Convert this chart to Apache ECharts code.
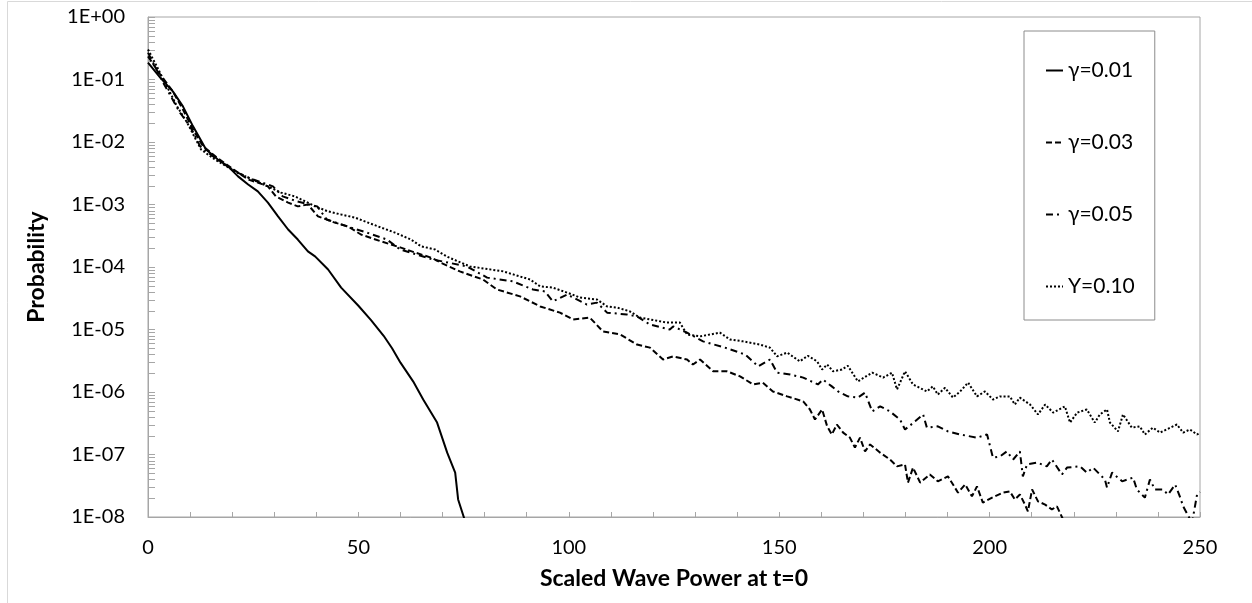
<!DOCTYPE html>
<html>
<head>
<meta charset="utf-8">
<script src="https://cdn.jsdelivr.net/npm/echarts@6/dist/echarts.min.js"></script>
<style>
  html, body { margin: 0; padding: 0; background: #fff; }
  #chart { width: 1252px; height: 603px; }
</style>
</head>
<body>
<div id="chart"></div>
<script>
// ---- Data ----
const seriesNames = ['γ=0.01', 'γ=0.03', 'γ=0.05', 'Υ=0.10'];

const g01X = [0, 2.9, 5.9, 8.3, 10.7, 13.8, 16.6, 19.0, 21.4, 23.8, 26.1, 28.5, 30.9, 33.3, 35.6, 38.0, 39.7, 42.8, 45.9, 50.0, 53.0, 56.0, 58.0, 60.0, 63.0, 65.4, 68.7, 71.1, 73.0, 73.7, 75.5];
const g01Y = [1.86e-1, 1.07e-1, 6.46e-2, 3.72e-2, 1.78e-2, 7.59e-3, 5.25e-3, 4.07e-3, 2.82e-3, 2.09e-3, 1.62e-3, 1.07e-3, 6.46e-4, 3.98e-4, 2.75e-4, 1.78e-4, 1.48e-4, 9.12e-5, 4.68e-5, 2.40e-5, 1.41e-5, 7.94e-6, 5.01e-6, 2.95e-6, 1.48e-6, 7.59e-7, 3.24e-7, 1.07e-7, 5.13e-8, 1.91e-8, 8.0e-9];

const g03X = [0, 2.9, 5.9, 8.3, 10.7, 13.1, 16.4, 21.4, 23.8, 26.1, 28.5, 30.4, 33.3, 35.6, 38.0, 40.4, 44.4, 47.5, 50.6, 55.4, 60.1, 63.5, 67.3, 69.6, 74.1, 79.6, 82.9, 88.4, 93.2, 97.9, 101.0, 105.0, 108.1, 112.2, 116.2, 119.3, 122.4, 124.8, 128.1, 129.5, 131.2, 134.3, 137.6, 140.7, 143.8, 146.1, 148.5, 151.9, 155.7, 157.3, 158.5, 160.2, 161.4, 162.5, 163.7, 165.2, 166.8, 168.0, 169.2, 170.4, 171.6, 174.0, 176.3, 178.0, 179.9, 180.6, 181.8, 183.5, 185.8, 187.7, 190.1, 192.5, 194.2, 195.8, 197.0, 198.4, 200.6, 203.2, 204.8, 206.0, 207.2, 208.4, 209.1, 210.1, 211.5, 213.2, 214.8, 216.0, 217.5];
const g03Y = [2.34e-1, 1.20e-1, 6.46e-2, 3.31e-2, 1.58e-2, 8.51e-3, 5.62e-3, 3.24e-3, 2.51e-3, 2.24e-3, 1.95e-3, 1.35e-3, 1.07e-3, 9.33e-4, 1.00e-3, 6.46e-4, 5.13e-4, 4.47e-4, 3.31e-4, 2.57e-4, 2.04e-4, 1.70e-4, 1.41e-4, 1.17e-4, 8.51e-5, 6.31e-5, 4.37e-5, 3.39e-5, 2.34e-5, 1.86e-5, 1.45e-5, 1.55e-5, 9.33e-6, 8.32e-6, 5.75e-6, 5.13e-6, 3.31e-6, 3.72e-6, 3.31e-6, 2.75e-6, 3.31e-6, 2.14e-6, 2.14e-6, 1.78e-6, 1.32e-6, 1.41e-6, 1.02e-6, 8.51e-7, 7.08e-7, 5.25e-7, 3.63e-7, 5.25e-7, 2.82e-7, 2.09e-7, 3.02e-7, 2.24e-7, 1.86e-7, 1.29e-7, 1.86e-7, 1.12e-7, 1.45e-7, 1.07e-7, 8.32e-8, 6.46e-8, 6.92e-8, 3.55e-8, 6.17e-8, 3.55e-8, 4.79e-8, 3.72e-8, 4.47e-8, 2.45e-8, 3.31e-8, 2.14e-8, 3.09e-8, 1.70e-8, 2.04e-8, 2.45e-8, 2.57e-8, 1.91e-8, 2.29e-8, 1.58e-8, 1.23e-8, 2.75e-8, 1.78e-8, 1.58e-8, 1.32e-8, 1.48e-8, 9.0e-9];

const g05X = [0, 3.6, 7.6, 10.0, 12.4, 16.4, 21.2, 25.0, 29.7, 32.0, 35.4, 40.2, 42.5, 47.3, 52.0, 56.8, 59.9, 67.7, 75.8, 80.6, 86.7, 91.5, 94.3, 96.2, 99.6, 104.3, 106.7, 109.1, 113.8, 116.2, 119.3, 124.0, 124.8, 128.1, 131.9, 137.1, 141.9, 145.0, 147.8, 149.5, 152.6, 155.7, 159.2, 160.4, 162.5, 164.0, 166.3, 168.7, 170.4, 172.1, 174.0, 176.3, 178.7, 179.9, 182.3, 184.2, 185.1, 187.7, 190.1, 193.0, 197.0, 199.4, 200.8, 202.5, 204.1, 205.6, 207.2, 207.9, 208.9, 211.3, 213.6, 214.8, 217.2, 218.4, 221.5, 223.1, 224.6, 227.4, 227.9, 229.1, 231.5, 234.1, 235.0, 236.9, 238.1, 239.3, 241.2, 242.4, 244.1, 245.2, 246.0, 248.1, 249.3, 250.0];
const g05Y = [2.69e-1, 8.91e-2, 2.95e-2, 1.78e-2, 8.51e-3, 5.25e-3, 3.24e-3, 2.51e-3, 1.95e-3, 1.35e-3, 1.12e-3, 9.33e-4, 5.75e-4, 4.47e-4, 3.55e-4, 2.75e-4, 1.91e-4, 1.32e-4, 1.02e-4, 6.76e-5, 5.89e-5, 4.37e-5, 4.07e-5, 2.82e-5, 3.63e-5, 2.51e-5, 2.69e-5, 1.86e-5, 1.74e-5, 1.62e-5, 1.20e-5, 1.00e-5, 1.12e-5, 8.91e-6, 6.46e-6, 5.13e-6, 3.98e-6, 2.57e-6, 3.31e-6, 2.04e-6, 1.91e-6, 1.70e-6, 1.32e-6, 1.58e-6, 1.23e-6, 1.02e-6, 8.51e-7, 8.13e-7, 9.77e-7, 4.90e-7, 5.89e-7, 4.90e-7, 3.63e-7, 2.51e-7, 3.39e-7, 4.37e-7, 2.69e-7, 2.82e-7, 2.34e-7, 2.09e-7, 1.86e-7, 2.09e-7, 8.91e-8, 9.33e-8, 1.12e-7, 8.32e-8, 1.12e-7, 4.47e-8, 6.92e-8, 7.41e-8, 6.46e-8, 8.32e-8, 4.79e-8, 6.17e-8, 6.46e-8, 5.13e-8, 6.17e-8, 3.98e-8, 2.95e-8, 5.13e-8, 3.72e-8, 4.27e-8, 2.75e-8, 2.04e-8, 3.98e-8, 2.75e-8, 2.75e-8, 2.29e-8, 3.31e-8, 2.14e-8, 1.48e-8, 8.0e-9, 2.29e-8, 2.51e-8];

const g10X = [0, 2.1, 4.5, 6.9, 9.3, 12.6, 15.9, 20.7, 23.8, 28.5, 31.6, 34.9, 38.0, 39.7, 42.8, 45.9, 49.2, 52.3, 55.4, 58.7, 62.5, 64.9, 68.2, 71.2, 76.5, 84.4, 90.8, 93.2, 96.2, 99.6, 102.7, 106.7, 109.1, 111.5, 114.5, 116.9, 119.3, 123.3, 126.4, 128.1, 131.2, 135.9, 138.3, 141.4, 145.4, 147.8, 149.5, 151.9, 154.9, 156.8, 159.0, 160.2, 161.4, 162.8, 164.9, 166.3, 168.7, 172.1, 174.7, 176.8, 178.0, 179.9, 181.8, 185.1, 186.5, 187.7, 189.4, 191.3, 193.0, 194.9, 197.0, 198.9, 200.8, 202.5, 204.8, 206.0, 207.2, 209.6, 211.5, 213.2, 215.1, 217.9, 219.1, 220.8, 223.1, 225.0, 226.2, 227.9, 228.6, 230.5, 231.7, 233.8, 235.7, 236.9, 238.8, 240.5, 244.5, 246.0, 247.6, 249.3, 250.0];
const g10Y = [3.02e-1, 1.62e-1, 7.76e-2, 3.72e-2, 2.04e-2, 7.59e-3, 5.25e-3, 3.39e-3, 2.69e-3, 1.95e-3, 1.55e-3, 1.35e-3, 1.07e-3, 9.33e-4, 7.76e-4, 6.92e-4, 6.17e-4, 5.13e-4, 4.27e-4, 3.55e-4, 2.75e-4, 2.14e-4, 1.91e-4, 1.45e-4, 1.02e-4, 8.51e-5, 6.31e-5, 4.90e-5, 4.68e-5, 3.89e-5, 3.24e-5, 3.02e-5, 2.34e-5, 2.24e-5, 1.95e-5, 1.55e-5, 1.45e-5, 1.29e-5, 1.29e-5, 8.32e-6, 7.76e-6, 8.91e-6, 6.92e-6, 6.46e-6, 5.75e-6, 5.13e-6, 3.72e-6, 4.27e-6, 3.09e-6, 3.80e-6, 3.09e-6, 2.29e-6, 2.75e-6, 2.14e-6, 2.29e-6, 2.63e-6, 1.48e-6, 2.04e-6, 1.70e-6, 2.04e-6, 1.10e-6, 2.14e-6, 1.32e-6, 1.02e-6, 1.23e-6, 9.12e-7, 1.17e-6, 8.13e-7, 1.02e-6, 1.41e-6, 8.51e-7, 1.02e-6, 7.59e-7, 8.51e-7, 8.51e-7, 6.31e-7, 8.13e-7, 6.31e-7, 4.37e-7, 6.31e-7, 4.68e-7, 5.89e-7, 3.24e-7, 4.68e-7, 5.25e-7, 3.24e-7, 4.37e-7, 5.25e-7, 3.24e-7, 2.34e-7, 4.37e-7, 2.69e-7, 2.82e-7, 2.09e-7, 2.69e-7, 2.24e-7, 3.02e-7, 2.24e-7, 2.51e-7, 2.09e-7, 2.24e-7];

// axis settings
const xMin = 0, xMax = 250, xStep = 50;
const yMin = 1e-8, yMax = 1;
const yDecadeExps = [-8, -7, -6, -5, -4, -3, -2, -1];
const yMinorMantissas = [2, 3, 4, 5, 6, 7, 8, 9];

// ---- Build ----
const FONT = 'Lato, "Open Sans", "Liberation Sans", sans-serif';
const AXIS_GRAY = '#a6a6a6';
const zip = (xs, ys) => xs.map((x, i) => [x, ys[i]]);

const minorTicks = [];
yDecadeExps.forEach(e => yMinorMantissas.forEach(m => minorTicks.push([0, m * Math.pow(10, e)])));

function fmtExp(v) {
  const e = Math.round(Math.log10(v));
  return '1E' + (e < 0 ? '-' : '+') + String(Math.abs(e)).padStart(2, '0');
}

const lineStyles = [
  { type: 'solid', width: 2 },
  { type: [6, 3], width: 2 },
  { type: [7, 4, 2, 4], width: 2 },
  { type: [2, 2], width: 2 }
];
const dataSets = [zip(g01X, g01Y), zip(g03X, g03Y), zip(g05X, g05Y), zip(g10X, g10Y)];

const chart = echarts.init(document.getElementById('chart'), null, { renderer: 'canvas' });
chart.setOption({
  animation: false,
  backgroundColor: '#fff',
  textStyle: { fontFamily: FONT },
  graphic: [{
    type: 'rect', silent: true, z: -10,
    shape: { x: 7.5, y: 1.5, width: 1300, height: 700 },
    style: { fill: 'none', stroke: '#d9d9d9', lineWidth: 1 }
  }],
  grid: {
    left: 148, right: 52, top: 17, bottom: 86,
    show: true, borderColor: AXIS_GRAY, borderWidth: 1, backgroundColor: 'transparent'
  },
  legend: {
    orient: 'vertical', left: 1024, top: 31,
    padding: [29, 20, 23, 21], itemGap: 51,
    itemWidth: 17, itemHeight: 20,
    borderColor: '#8c8c8c', borderWidth: 1,
    itemStyle: { opacity: 0 },
    textStyle: { fontSize: 21, color: '#000', fontFamily: FONT },
    data: seriesNames
  },
  xAxis: {
    type: 'value', min: xMin, max: xMax, interval: xStep,
    name: 'Scaled Wave Power at t=0', nameLocation: 'middle', nameGap: 50,
    nameTextStyle: { fontSize: 23, fontWeight: 'bold', color: '#000', fontFamily: FONT },
    axisLine: { show: true, lineStyle: { color: AXIS_GRAY, width: 1 } },
    axisTick: { show: true, inside: true, length: 5, lineStyle: { color: AXIS_GRAY } },
    minorTick: { show: true, splitNumber: 5, length: 5, lineStyle: { color: AXIS_GRAY } },
    splitLine: { show: false },
    axisLabel: { fontSize: 20, color: '#000', margin: 21, fontFamily: FONT }
  },
  yAxis: {
    type: 'log', logBase: 10, min: yMin, max: yMax, splitNumber: 8,
    name: 'Probability', nameLocation: 'middle', nameGap: 100,
    nameTextStyle: { fontSize: 23, fontWeight: 'bold', color: '#000', fontFamily: FONT },
    axisLine: { show: true, lineStyle: { color: AXIS_GRAY, width: 1 } },
    axisTick: { show: true, inside: true, length: 7, lineStyle: { color: AXIS_GRAY } },
    splitLine: { show: false },
    axisLabel: { fontSize: 20, color: '#000', margin: 23, fontFamily: FONT, formatter: fmtExp }
  },
  series: seriesNames.map((n, i) => ({
    name: n, type: 'line', data: dataSets[i],
    symbol: 'none', smooth: false, clip: true,
    lineStyle: Object.assign({ color: '#000' }, lineStyles[i]),
    itemStyle: { color: '#000' },
    z: 3
  })).concat([{
    name: 'minorTicks', type: 'custom', silent: true, z: 1,
    data: minorTicks,
    renderItem: function (params, api) {
      const p = api.coord([api.value(0), api.value(1)]);
      return {
        type: 'line',
        shape: { x1: p[0], y1: Math.round(p[1]) + 0.5, x2: p[0] + 7, y2: Math.round(p[1]) + 0.5 },
        style: { stroke: AXIS_GRAY, lineWidth: 1 }
      };
    }
  }])
});
</script>
</body>
</html>
